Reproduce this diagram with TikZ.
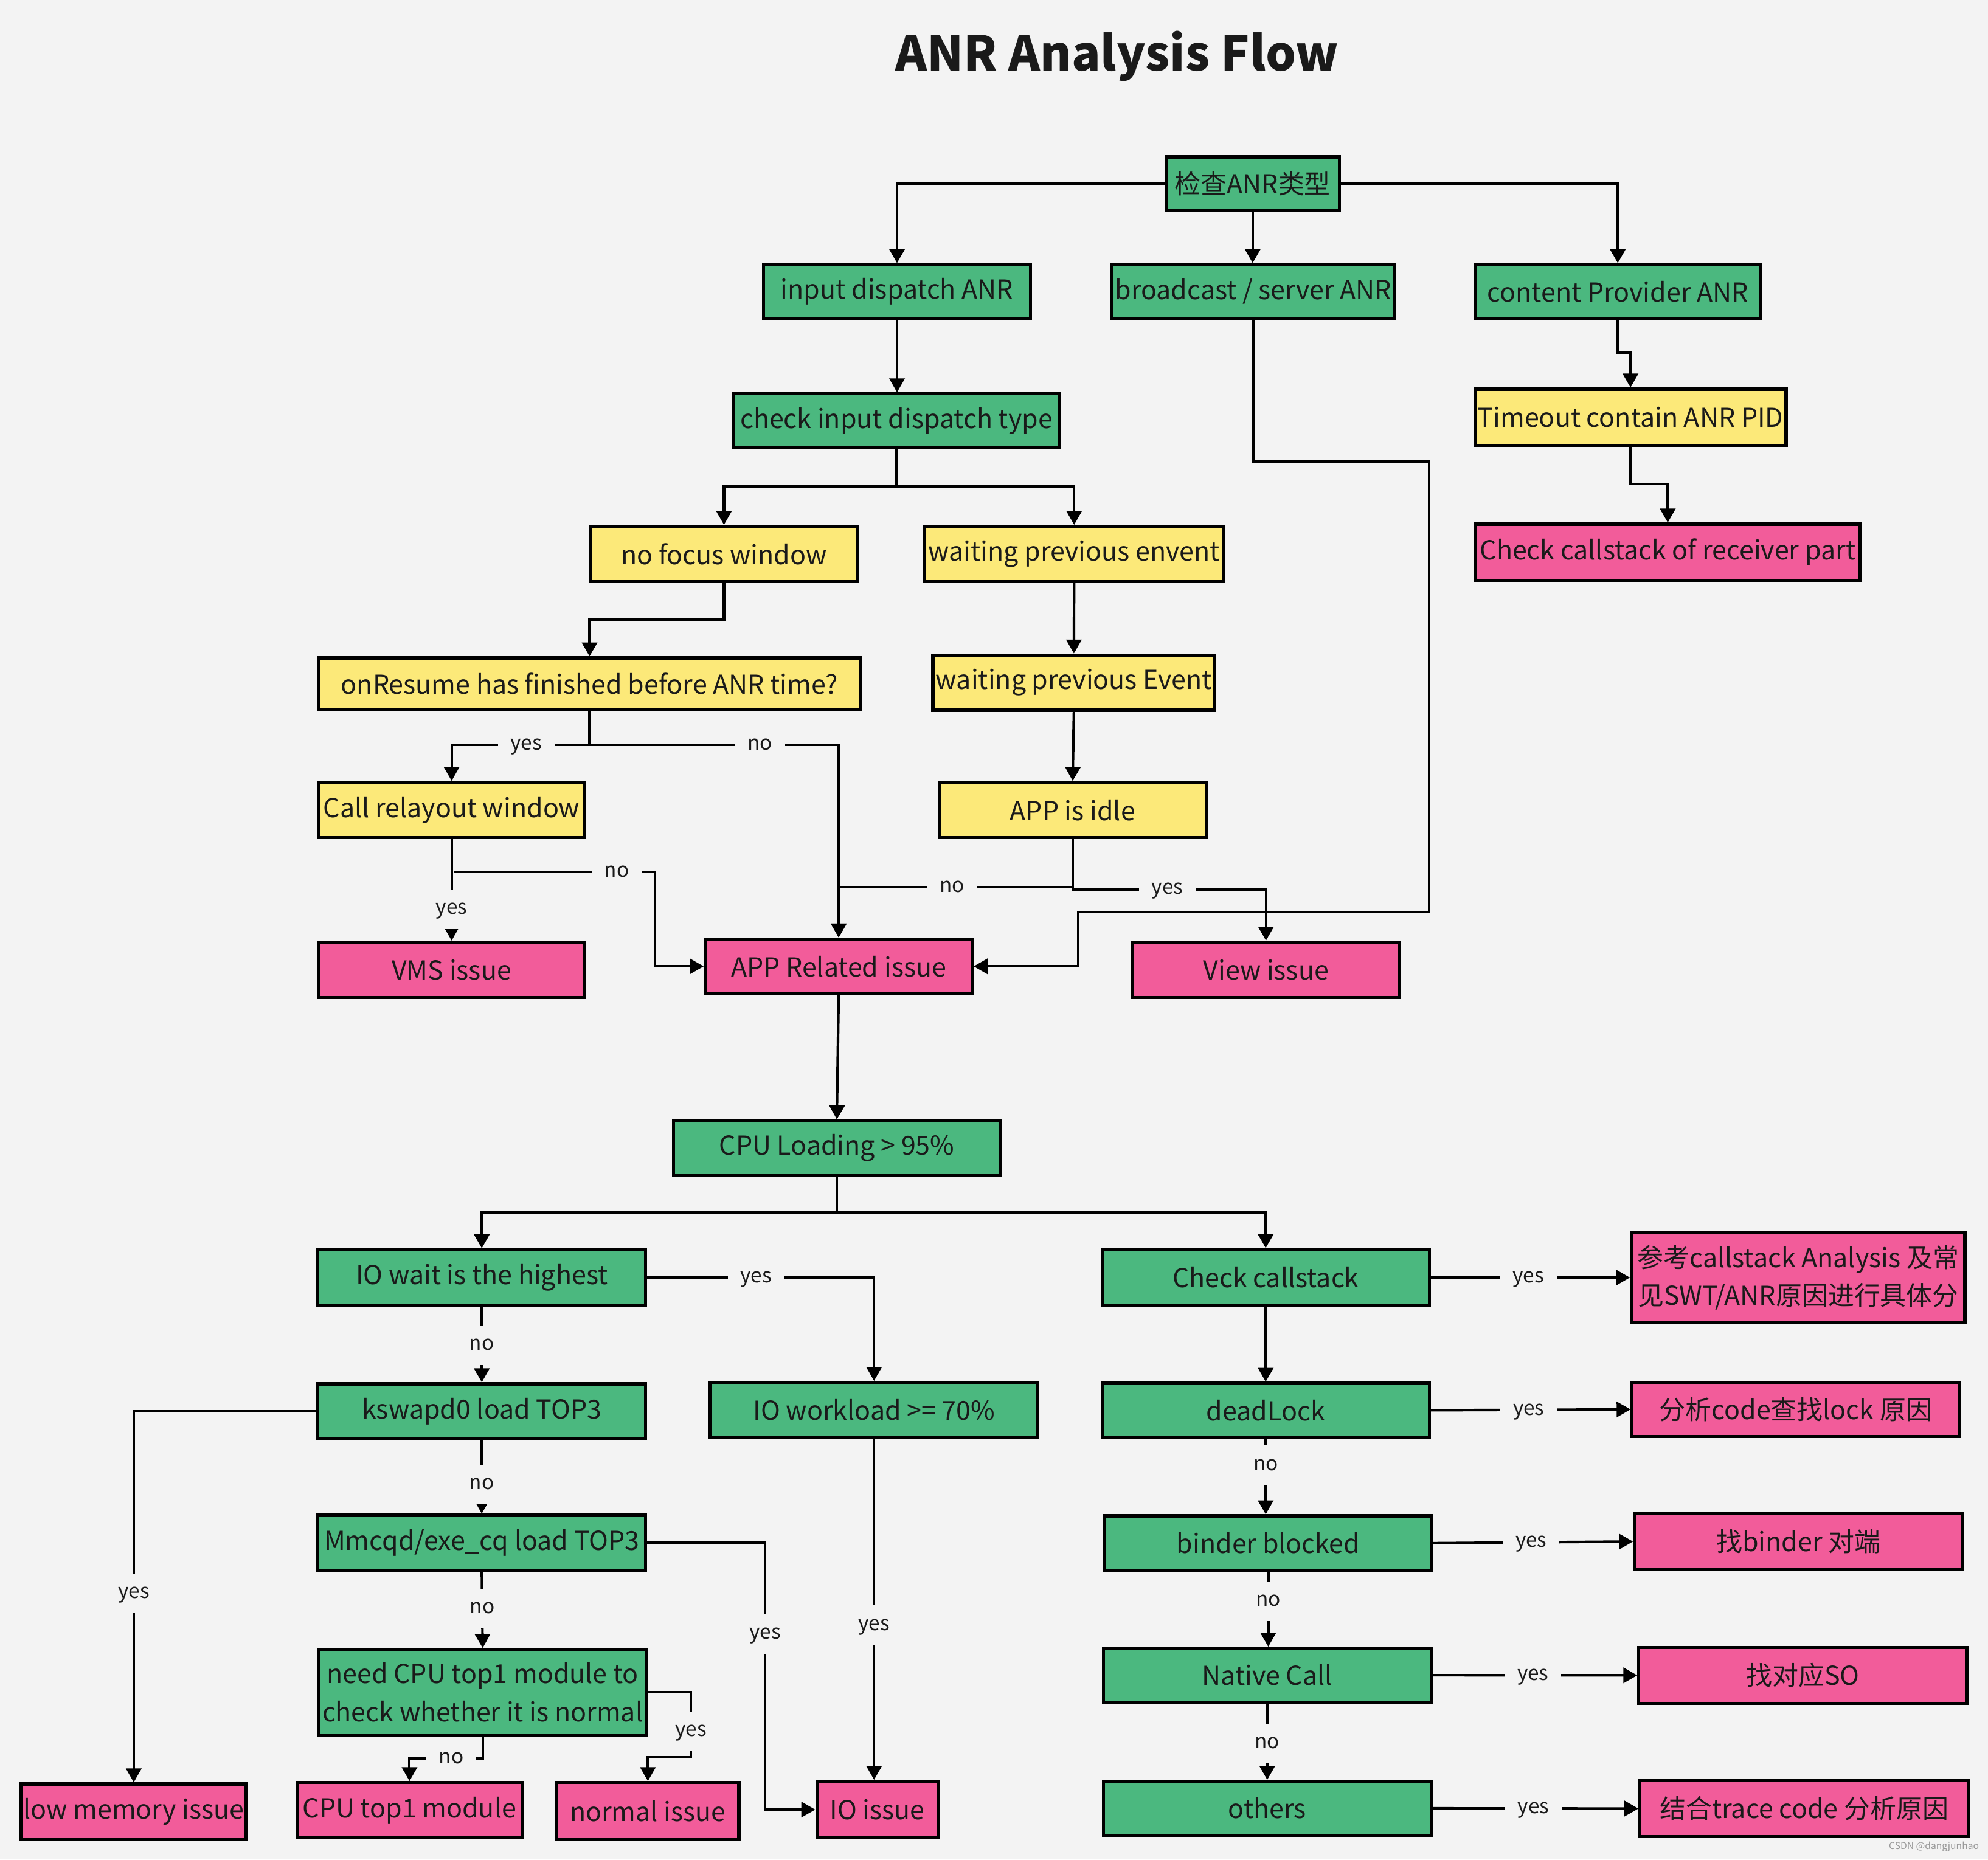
\documentclass[tikz,border=0pt]{standalone}
\usepackage{fontspec}
\setmainfont{Noto Sans CJK SC}
\usetikzlibrary{arrows.meta}
\definecolor{bgc}{HTML}{F3F3F3}
\definecolor{gfill}{HTML}{4BB87F}
\definecolor{yfill}{HTML}{FCE979}
\definecolor{pfill}{HTML}{F25C9A}
\definecolor{txt}{HTML}{1A1A1A}
\begin{document}
\begin{tikzpicture}[x=1pt,y=-1pt,
  nbox/.style={draw=black, line width=2.5pt, inner sep=0pt, text=txt, font=\fontsize{20.6}{30}\selectfont, align=center},
  gbox/.style={nbox, fill=gfill},
  ybox/.style={nbox, fill=yfill},
  pbox/.style={nbox, fill=pfill},
  conn/.style={line width=2pt, -{Triangle[length=11pt,width=12pt]}},
  lbl/.style={fill=bgc, font=\fontsize{16}{19}\selectfont, text=txt, inner xsep=10pt, inner ysep=7.5pt, text height=12pt, text depth=4pt}
]
\fill[bgc] (0,0) rectangle (1568,1467);
\useasboundingbox (0,0) rectangle (1568,1467);

\node[font=\fontsize{37.8}{45}\selectfont\bfseries, text=txt, anchor=base] (title) at (881,56) {ANR Analysis Flow};

% nodes
\node[gbox, minimum width=136.5pt, minimum height=42.5pt] (t1) at (988,145) {检查ANR类型};
\node[gbox, minimum width=210.5pt, minimum height=42.5pt] (ida) at (707.5,230) {input dispatch ANR};
\node[gbox, minimum width=223.5pt, minimum height=42.5pt] (bsa) at (988.5,230) {broadcast / server ANR};
\node[gbox, minimum width=224.5pt, minimum height=42.5pt] (cpa) at (1276,230) {content Provider ANR};
\node[gbox, minimum width=257.5pt, minimum height=42.5pt] (cidt) at (707,332) {check input dispatch type};
\node[ybox, minimum width=245.5pt, minimum height=44.5pt] (tmo) at (1286,329.2) {Timeout contain ANR PID};
\node[pbox, minimum width=303.5pt, minimum height=44.5pt] (ckr) at (1315.4,435.7) {Check callstack of receiver part};
\node[ybox, minimum width=210.5pt, minimum height=43.5pt] (nfw) at (571,437) {no focus window};
\node[ybox, minimum width=236pt, minimum height=43.5pt] (wpe) at (847.2,437) {waiting previous envent};
\node[ybox, minimum width=427.5pt, minimum height=41pt] (onr) at (465,539.5) {onResume has finished before ANR time?};
\node[ybox, minimum width=222.5pt, minimum height=43.5pt] (wpE) at (847,538.5) {waiting previous Event};
\node[ybox, minimum width=209.5pt, minimum height=43.5pt] (crw) at (356.2,639) {Call relayout window};
\node[ybox, minimum width=210.5pt, minimum height=43.5pt] (aidle) at (846,639) {APP is idle};
\node[pbox, minimum width=209.5pt, minimum height=43.5pt] (vms) at (356.2,765) {VMS issue};
\node[pbox, minimum width=210.5pt, minimum height=43pt] (app) at (661.5,762.3) {APP Related issue};
\node[pbox, minimum width=210.5pt, minimum height=43.5pt] (view) at (998.5,765) {View issue};
\node[gbox, minimum width=257.5pt, minimum height=42.5pt] (cpu) at (660,905.5) {CPU Loading > 95\%};
\node[gbox, minimum width=258.5pt, minimum height=43.5pt] (iow) at (380,1007.7) {IO wait is the highest};
\node[gbox, minimum width=258.5pt, minimum height=43.5pt] (ksw) at (380,1113.4) {kswapd0 load TOP3};
\node[gbox, minimum width=258.5pt, minimum height=43.5pt] (iowl) at (689.4,1112.3) {IO workload >= 70\%};
\node[gbox, minimum width=258.5pt, minimum height=43.5pt] (mmc) at (380,1217) {Mmcqd/exe\_cq load TOP3};
\node[gbox, minimum width=258pt, minimum height=67.5pt] (ncpu) at (380.7,1335) {need CPU top1 module to\\check whether it is normal};
\node[gbox, minimum width=258pt, minimum height=44pt] (ckc) at (998.3,1007.8) {Check callstack};
\node[pbox, minimum width=263pt, minimum height=71pt] (ref) at (1418.3,1007.8) {参考callstack Analysis 及常\\见SWT/ANR原因进行具体分};
\node[gbox, minimum width=258pt, minimum height=42.5pt] (dl) at (998.3,1112.5) {deadLock};
\node[pbox, minimum width=258pt, minimum height=43pt] (ana) at (1416.3,1111.8) {分析code查找lock 原因};
\node[gbox, minimum width=258pt, minimum height=43pt] (bb) at (1000.3,1217.3) {binder blocked};
\node[pbox, minimum width=258.5pt, minimum height=44pt] (fbd) at (1418.5,1216) {找binder 对端};
\node[gbox, minimum width=258.5pt, minimum height=42.5pt] (nc) at (999.5,1321.5) {Native Call};
\node[pbox, minimum width=258.8pt, minimum height=44pt] (so) at (1422,1321.6) {找对应SO};
\node[gbox, minimum width=258.5pt, minimum height=42.5pt] (oth) at (999.5,1426.5) {others};
\node[pbox, minimum width=259pt, minimum height=44pt] (jh) at (1423,1426.7) {结合trace code 分析原因};
\node[pbox, minimum width=177.5pt, minimum height=43.5pt] (lowm) at (105.5,1429) {low memory issue};
\node[pbox, minimum width=177.5pt, minimum height=43.5pt] (cpu1) at (323,1428) {CPU top1 module};
\node[pbox, minimum width=143.5pt, minimum height=44.5pt] (norm) at (511,1428.5) {normal issue};
\node[pbox, minimum width=95.5pt, minimum height=44.5pt] (ioi) at (692,1427.5) {IO issue};

\node[font=\fontsize{7.5}{9}\selectfont, text=black!40, anchor=east, inner sep=0pt] (wm) at (1561,1457) {CSDN @dangjunhao};

% connectors
\draw[conn] (t1.west) -| (ida.north);
\draw[conn] (t1.south) -- (t1.south |- bsa.north);
\draw[conn] (t1.east) -| (cpa.north);
\draw[conn] (ida.south) -- (ida.south |- cidt.north);
\draw[conn] (cpa.south) -- (1276,278) -| (tmo.north);
\draw[conn] (tmo.south) -- (1286,382) -| (ckr.north);
\draw[conn] (bsa.south) -- (988.5,364) -- (1127,364) -- (1127,719.5) -- (850.5,719.5) -- (850.5,762.3) -- (app.east);
\draw[conn] (cidt.south) -- (707,384) -| (nfw.north);
\draw[conn] (cidt.south) -- (707,384) -| (wpe.north);
\draw[conn] (nfw.south) -- (571,488.6) -| (onr.north);
\draw[conn] (wpe.south) -- (wpE.north);
\draw[conn] (wpE.south) -- (aidle.north);
\draw[conn] (onr.south) -- (465,587.5) -- node[lbl,pos=0.46]{yes} (356.2,587.5) -- (crw.north);
\draw[conn] (onr.south) -- (465,587.5) -- node[lbl,pos=0.684]{no} (661.5,587.5) -- (app.north);
\draw[conn] (crw.south) -- node[lbl,pos=0.69]{yes} (vms.north);
\coordinate (crwno) at (358.5,688);
\draw[conn] (crwno) -- node[lbl,pos=0.81]{no} (516.5,688) -- (516.5,762.3) -- (app.west);
\draw[conn] (aidle.south) -- (846,700) -- node[lbl,pos=0.516]{no} (661.5,700) -- (app.north);
\draw[conn] (aidle.south) -- (846,701.5) -- node[lbl,pos=0.49]{yes} (998.5,701.5) -- (view.north);
\draw[conn] (app.south) -- (cpu.north);
\draw[conn] (cpu.south) -- (660,956.2) -| (iow.north);
\draw[conn] (cpu.south) -- (660,956.2) -| (ckc.north);
\draw[conn] (iow.east) -- node[lbl,pos=0.48]{yes} (689.4,1007.7) -- (iowl.north);
\draw[conn] (iow.south) -- node[lbl,pos=0.51]{no} (ksw.north);
\draw[conn] (ksw.west) -- (105.5,1113.4) -- node[lbl,pos=0.49]{yes} (lowm.north);
\draw[conn] (ksw.south) -- node[lbl,pos=0.6]{no} (mmc.north);
\draw[conn] (mmc.south) -- node[lbl,pos=0.48]{no} (ncpu.north);
\draw[conn] (mmc.east) -- (603.5,1217) -- node[lbl,pos=0.342]{yes} (603.5,1427.5) -- (ioi.west);
\draw[conn] (iowl.south) -- node[lbl,pos=0.546]{yes} (iowl.south |- ioi.north);
\draw[conn] (ncpu.south) -- (380.7,1387) -- node[lbl,pos=0.43]{no} (323,1387) -- (cpu1.north);
\draw[conn] (ncpu.east) -- (545,1335) -- node[lbl,pos=0.6]{yes} (545,1386) -- (511,1386) -- (norm.north);
\draw[conn] (ckc.east) -- node[lbl,pos=0.49]{yes} (ref.west);
\draw[conn] (ckc.south) -- (dl.north);
\draw[conn] (dl.east) -- node[lbl,pos=0.49]{yes} (ana.west);
\draw[conn] (dl.south) -- node[lbl,pos=0.35]{no} (dl.south |- bb.north);
\draw[conn] (bb.east) -- node[lbl,pos=0.49]{yes} (fbd.west);
\draw[conn] (bb.south) -- node[lbl,pos=0.39]{no} (bb.south |- nc.north);
\draw[conn] (nc.east) -- node[lbl,pos=0.49]{yes} (so.west);
\draw[conn] (nc.south) -- node[lbl,pos=0.52]{no} (oth.north);
\draw[conn] (oth.east) -- node[lbl,pos=0.49]{yes} (jh.west);
\end{tikzpicture}
\end{document}
